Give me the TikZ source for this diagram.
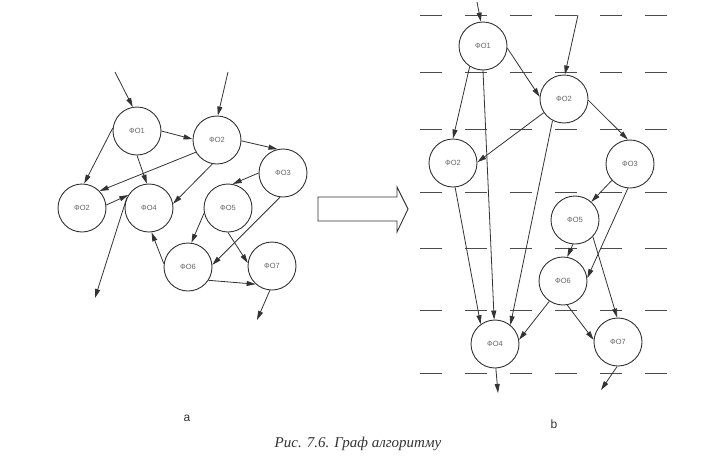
\documentclass[tikz,border=0pt]{standalone}
\usepackage{fontspec}
\setmainfont{Liberation Serif}
\setsansfont{Liberation Sans}
\usetikzlibrary{arrows.meta}
\begin{document}
\begin{tikzpicture}[x=1pt,y=-1pt,
  fo/.style={circle,draw=black!80,fill=white,line width=0.9pt,minimum size=48pt,inner sep=0pt,
             font=\sffamily\fontsize{7.5}{9}\selectfont,text=black!60},
  edge/.style={draw=black!80,line width=0.8pt,-{Triangle[length=9pt,width=5pt]}},
  gridline/.style={draw=black!70,line width=0.8pt,dash pattern=on 22pt off 23pt},
  lbl/.style={font=\sffamily\fontsize{12}{14}\selectfont,text=black!80}]
\useasboundingbox (0,0) rectangle (716,461);

% ---------- (a) ----------
\node[fo] (a1)  at (137,131) {ФО1};
\node[fo] (a2)  at (217,140) {ФО2};
\node[fo] (a3)  at (283,173) {ФО3};
\node[fo] (a2l) at (82,208)  {ФО2};
\node[fo] (a4)  at (149,208) {ФО4};
\node[fo] (a5)  at (228,208) {ФО5};
\node[fo] (a6)  at (188,267) {ФО6};
\node[fo] (a7)  at (272,266) {ФО7};
\coordinate (ain1) at (115,72);
\coordinate (ain2) at (228,72);
\coordinate (aout4) at (95,298);
\coordinate (aout7) at (257,320);

\draw[edge] (ain1) -- (a1.100);
\draw[edge] (ain2) -- (a2.88);
\draw[edge] (a1.east) -- (a2.178);
\draw[edge] (a1.173) -- (a2l.85);
\draw[edge] (a1.-90) -- (a4.95);
\draw[edge] (a2.210) -- (a2l.44);
\draw[edge] (a2.259) -- (a4.10);
\draw[edge] (a2.358) -- (a3.103);
\draw[edge] (a2l.7) -- (a4.148);
\draw[edge] (a4.155) -- (aout4);
\draw[edge] (a3.180) -- (a5.79);
\draw[edge] (a3.-97) -- (a6.5);
\draw[edge] (a5.192) -- (a6.82);
\draw[edge] (a5.-90) -- (a7.173);
\draw[edge] (a6.-33) -- (a7.228);
\draw[edge] (a6.172) -- (a4.-84);
\draw[edge] (a7.-95) -- (aout7);

% ---------- hollow arrow ----------
\draw[draw=black!80,line width=0.9pt] (318,197) -- (397,197) -- (397,187) -- (408,209)
  -- (397,232) -- (397,221) -- (318,221) -- cycle;

% ---------- (b) ----------
\foreach \yy in {15,72,129,192,248,310,373}
  \draw[gridline] (420,\yy) -- (668,\yy);

\node[fo] (b1)  at (483,46)  {ФО1};
\node[fo] (b2)  at (564,99)  {ФО2};
\node[fo] (b2l) at (453,163) {ФО2};
\node[fo] (b3)  at (630,164) {ФО3};
\node[fo] (b5)  at (575,220) {ФО5};
\node[fo] (b6)  at (563,281) {ФО6};
\node[fo] (b4)  at (495,344) {ФО4};
\node[fo] (b7)  at (618,342) {ФО7};
\coordinate (bin1) at (477,2);
\coordinate (bin2) at (578,15);
\coordinate (bout4) at (498,393);
\coordinate (bout7) at (601,390);

\draw[edge] (bin1) -- (b1.95);
\draw[edge] (bin2) -- (b2.88);
\draw[edge] (b1.-5) -- (b2.175);
\draw[edge] (b1.237) -- (b2l.90);
\draw[edge] (b1.-90) -- (b4.92);
\draw[edge] (b2.214) -- (b2l.2);
\draw[edge] (b2.-3) -- (b3.95);
\draw[edge] (b2.242) -- (b4.51);
\draw[edge] (b2l.-85) -- (b4.126);
\draw[edge] (b3.222) -- (b5.48);
\draw[edge] (b3.-95) -- (b6.7);
\draw[edge] (b5.-95) -- (b6.80);
\draw[edge] (b5.-43) -- (b7.92);
\draw[edge] (b6.236) -- (b4.10);
\draw[edge] (b6.-80) -- (b7.175);
\draw[edge] (b4.-88) -- (bout4);
\draw[edge] (b7.-92) -- (bout7);

% ---------- labels ----------
\node[lbl] (la) at (187,418) {a};
\node[lbl] (lb) at (554,424) {b};
\node[font=\itshape\fontsize{15}{17}\selectfont,text=black!80] (cap) at (358,444) {Рис. 7.6. Граф алгоритму};
\end{tikzpicture}
\end{document}
